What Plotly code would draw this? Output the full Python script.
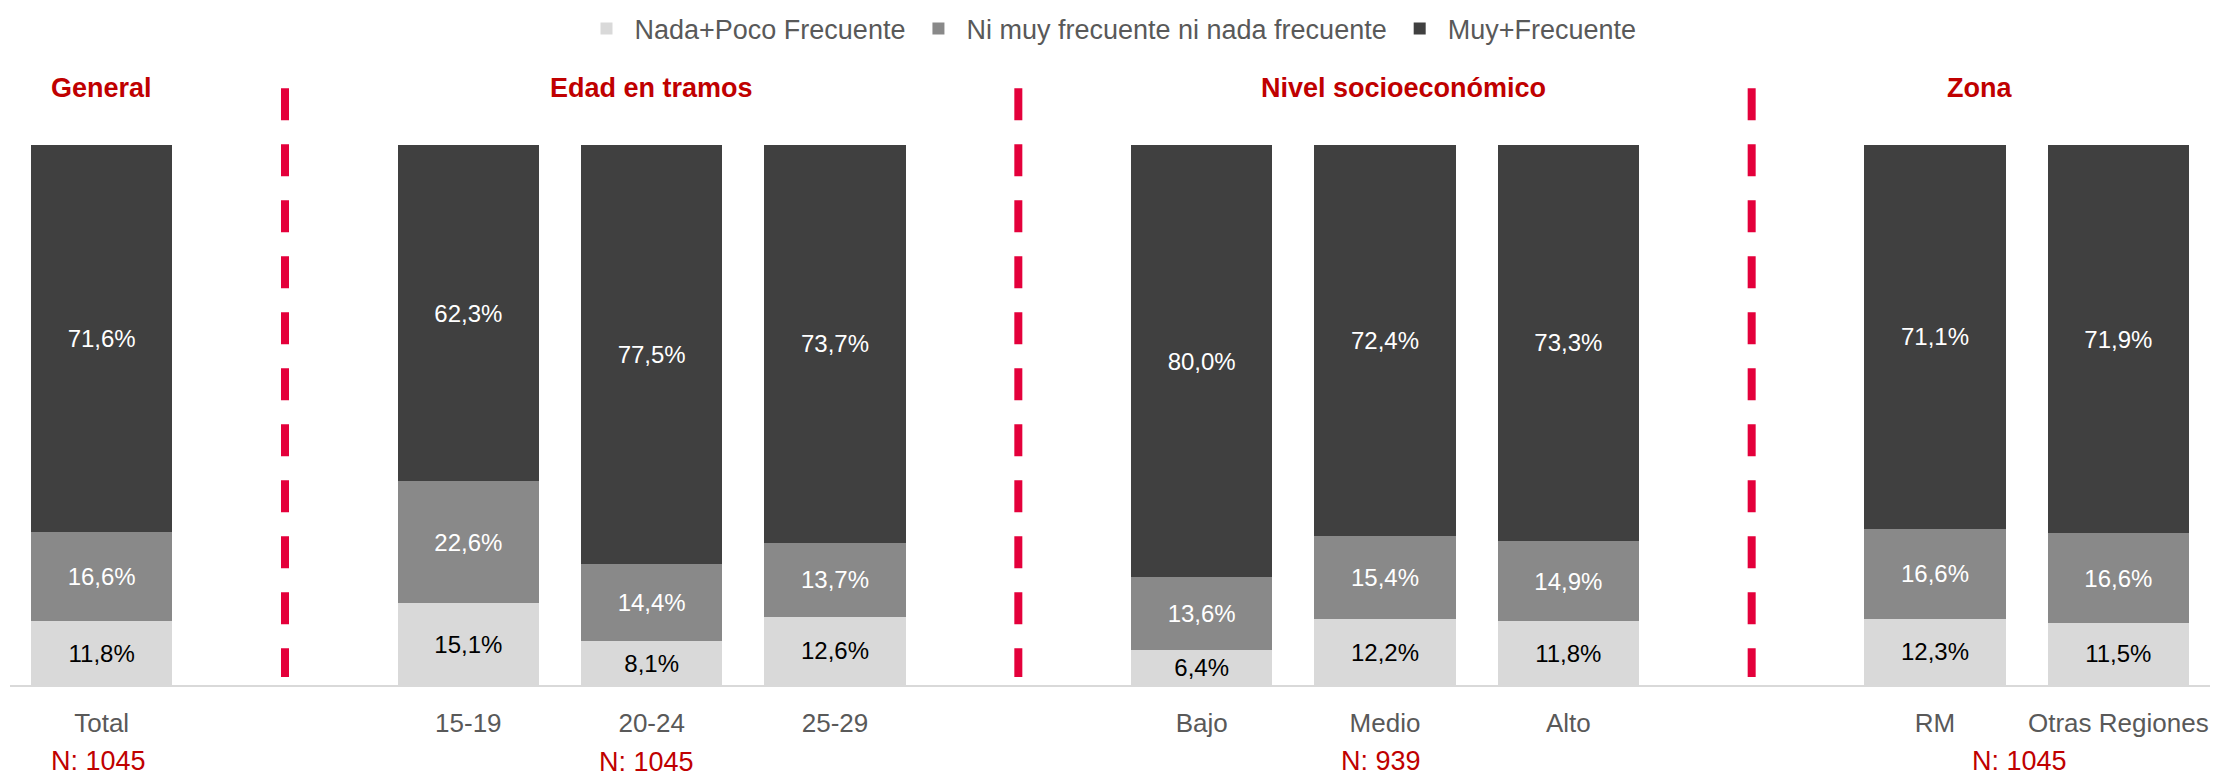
import plotly.graph_objects as go

# categories and their slot on the x axis (gaps leave room for the separators)
categories = ["Total", "15-19", "20-24", "25-29", "Bajo", "Medio", "Alto", "RM", "Otras Regiones"]
slots = [0, 2, 3, 4, 6, 7, 8, 10, 11]

nada_poco = [11.8, 15.1, 8.1, 12.6, 6.4, 12.2, 11.8, 12.3, 11.5]
ni_ni = [16.6, 22.6, 14.4, 13.7, 13.6, 15.4, 14.9, 16.6, 16.6]
muy_frec = [71.6, 62.3, 77.5, 73.7, 80.0, 72.4, 73.3, 71.1, 71.9]

series_names = ["Nada+Poco Frecuente", "Ni muy frecuente ni nada frecuente", "Muy+Frecuente"]

group_titles = ["General", "Edad en tramos", "Nivel socioeconómico", "Zona"]
group_title_x = [0, 3, 7.1, 10.24]
group_n = ["N: 1045", "N: 1045", "N: 939", "N: 1045"]
group_n_x = [-0.02, 2.97, 6.98, 10.46]
separators = [1, 5, 9]

FONT = "Liberation Sans, Arial, sans-serif"
RED = "#C00000"


def pct(v):
    return f"{v:.1f}%".replace(".", ",")


fig = go.Figure()
for name, vals, col, txtcol in [
    (series_names[0], nada_poco, "#D9D9D9", "#000000"),
    (series_names[1], ni_ni, "#898989", "#FFFFFF"),
    (series_names[2], muy_frec, "#404040", "#FFFFFF"),
]:
    fig.add_trace(go.Bar(
        x=slots, y=vals, name=name,
        marker=dict(color=col, line=dict(width=0)),
        width=0.77,
        text=[pct(v) for v in vals],
        textposition="inside",
        insidetextanchor="middle",
        textangle=0,
        textfont=dict(family=FONT, size=24, color=txtcol),
        hoverinfo="skip",
    ))

# red dashed separators between groups
for sx in separators:
    fig.add_shape(type="line", xref="x", yref="paper",
                  x0=sx, x1=sx, y0=1.105, y1=0.0148,
                  line=dict(color="#E4003B", width=8, dash="32px,24px"))

for t, tx in zip(group_titles, group_title_x):
    fig.add_annotation(x=tx, y=1.105, xref="x", yref="paper", text=f"<b>{t}</b>",
                       showarrow=False, yanchor="middle", xanchor="center",
                       font=dict(family=FONT, size=27, color=RED))

for i, (t, tx) in enumerate(zip(group_n, group_n_x)):
    fig.add_annotation(x=tx, y=-0.14 if i != 1 else -0.143, xref="x", yref="paper", text=t,
                       showarrow=False, yanchor="middle", xanchor="center",
                       font=dict(family=FONT, size=27, color=RED))

fig.update_layout(
    width=2214, height=777,
    margin=dict(l=10, r=4, t=141, b=92),
    barmode="stack",
    plot_bgcolor="white", paper_bgcolor="white",
    font=dict(family=FONT, color="#595959"),
    legend=dict(orientation="h", x=0.5, xanchor="center", y=1.215, yanchor="middle",
                traceorder="normal", itemwidth=46,
                font=dict(family=FONT, size=27, color="#595959"),
                itemclick=False, itemdoubleclick=False),
    xaxis=dict(range=[-0.5, 11.5], tickvals=slots, ticktext=categories,
               showgrid=False, zeroline=False, showline=True, linecolor="#D9D9D9", linewidth=2,
               ticks="outside", ticklen=14, tickcolor="rgba(0,0,0,0)",
               tickfont=dict(family=FONT, size=26, color="#595959")),
    yaxis=dict(range=[0, 100], visible=False, showgrid=False, zeroline=False),
    showlegend=True,
)

# drop the default page margin so the figure sits at the window's corner
fig.write_html("out.html", config={"displayModeBar": False},
               post_script="document.body.style.margin='0';")
